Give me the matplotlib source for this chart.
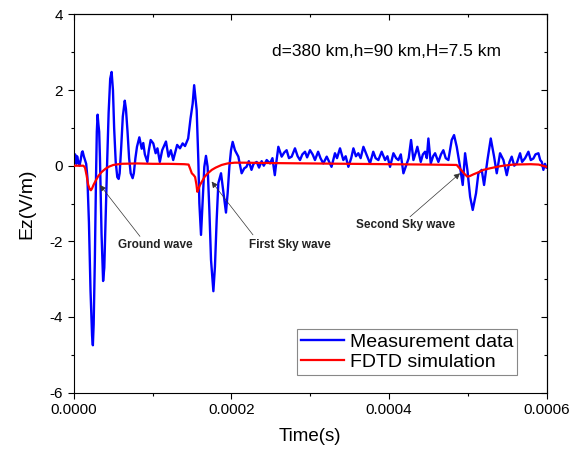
import matplotlib
matplotlib.use("Agg")
import matplotlib.pyplot as plt
from matplotlib.ticker import MultipleLocator
import numpy as np

plt.rcParams['font.family'] = ['Liberation Sans', 'DejaVu Sans']
plt.rcParams['axes.unicode_minus'] = False

# Measurement data (time in microseconds, Ez in V/m)
meas_t = [0, 1.5, 3, 4, 5.5, 7, 8.5, 10, 11, 12.5, 14, 15.5, 17, 19, 21, 23, 24, 25, 26.5, 28,
          29, 30, 31, 32, 33, 35, 37, 38.5, 40, 42, 44, 46, 47.8, 49.5, 51, 53, 55, 56.7, 58, 60,
          62, 64.5, 66, 68, 70, 72, 74.5, 76, 78, 80, 83, 86, 88, 90, 93.2, 95, 97.4, 100.7, 103.7, 106,
          109, 112, 116.8, 120, 123, 126, 131, 134.6, 138, 141, 145, 148, 150.7, 152.6, 155.8, 157.9,
          159.2, 161.3, 163.4, 165.5, 167.6, 169.7, 171.9, 174, 177, 179, 181.2, 183.3, 186.7, 188.8,
          190.9, 193, 195.1, 197.3, 199.4, 201.5, 204.4, 208.7, 212.9, 216.2, 219, 222, 225.4, 228, 232,
          235, 238.3, 241, 244.7, 249, 252, 255, 257, 259.5, 263.7, 267, 270, 273, 276.4, 280.6, 284,
          287, 290, 293.4, 296, 299.7, 303, 306, 310, 313, 316.6, 320.9, 324, 327, 331.4, 334, 337.8,
          342, 345, 348.4, 352, 354.8, 358, 361, 364, 367.5, 371.7, 375.9, 380, 383, 386.5, 390.7, 395,
          398, 401.3, 405.6, 409, 411.9, 415, 418.3, 422.5, 425, 428, 431, 434, 436, 440.3, 443, 445.8,
          448, 450, 453, 456, 458.5, 462.7, 466, 469, 472, 475.4, 479.6, 482.6, 486, 490.2, 493.6,
          496.6, 499.5, 503, 506.3, 510.5, 513.5, 517.7, 520.7, 525, 529.2, 533.4, 536.8, 541, 545.3,
          549.5, 553, 555.8, 559, 562.2, 566.4, 569, 572.8, 577, 580, 583.3, 586, 589.7, 592, 594, 596,
          598, 600]
meas_v = [0.15, 0.3, 0.05, 0.25, 0.1, 0.0, 0.15, 0.35, 0.38, 0.25, 0.15, 0.05, -0.3, -1.5, -3.3, -4.5, -4.75, -4.2, -2.5, -0.3,
          0.9, 1.35, 1.1, 0.9, 0.2, -1.8, -3.05, -2.7, -1.5, 0.0, 1.4, 2.3, 2.48, 2.0, 1.0, 0.1, -0.3, -0.35, -0.2, 0.5,
          1.3, 1.72, 1.5, 0.9, 0.2, -0.2, -0.33, -0.2, 0.2, 0.5, 0.75, 0.45, 0.6, 0.3, 0.1, 0.4, 0.68, 0.59, 0.33, 0.46,
          0.1, 0.41, 0.64, 0.24, 0.41, 0.15, 0.55, 0.46, 0.59, 0.52, 0.72, 1.25, 1.64, 2.13, 1.47, 0.15,
          -0.99, -1.83, -0.9, -0.03, 0.26, -0.03, -1.17, -2.49, -3.32, -2.67, -1.43, -0.46, -0.2, -0.55,
          -0.9, -1.24, -0.73, -0.03, 0.41, 0.63, 0.41, 0.24, -0.2, -0.07, -0.03, 0.12, -0.11, 0.05, 0.1,
          -0.05, 0.12, 0.0, 0.15, 0.06, 0.2, -0.25, 0.1, 0.5, 0.24, 0.35, 0.41, 0.2, 0.24, 0.46, 0.25,
          0.15, 0.3, 0.37, 0.22, 0.41, 0.3, 0.15, 0.37, 0.2, 0.06, 0.24, 0.1, -0.03, 0.33, 0.2, 0.46,
          0.15, 0.25, -0.03, 0.2, 0.46, 0.25, 0.33, 0.2, 0.5, 0.28, 0.06, 0.37, 0.2, 0.15, 0.37, 0.15,
          0.25, -0.03, 0.33, 0.2, 0.15, 0.3, -0.2, 0.05, 0.2, 0.68, 0.15, 0.35, 0.5, 0.1, 0.3, 0.37,
          0.2, 0.72, 0.06, 0.25, 0.33, 0.1, 0.3, 0.41, 0.2, 0.15, 0.68, 0.81, 0.5, -0.03, -0.51,
          0.33, -0.11, -0.82, -1.17, -0.73, -0.2, -0.11, -0.51, 0.15, 0.72, 0.24, -0.2, 0.33, 0.15,
          -0.25, 0.1, 0.24, 0.0, 0.06, 0.33, 0.1, 0.2, 0.37, 0.15, 0.19, 0.3, 0.33, 0.15, 0.1, -0.11,
          0.05, -0.05]

# FDTD simulation
sim_t = [0, 12, 14, 16, 18, 20, 21.5, 23, 25, 28, 31, 35, 40, 45, 50, 60, 80, 100, 120, 140, 145.5,
         147.5, 149.6, 152, 153.8, 155.5, 156.6, 158, 160, 163, 166, 170, 175, 180, 187.5, 195, 204,
         215, 250, 300, 350, 400, 450, 486, 488, 492.3, 496, 499.5, 503, 507, 514, 520, 528, 536.8,
         545, 558, 580, 590, 595, 600]
sim_v = [0, 0, -0.05, -0.25, -0.5, -0.62, -0.65, -0.6, -0.5, -0.38, -0.27, -0.17, -0.08, -0.02, 0.02, 0.05, 0.06, 0.05, 0.05, 0.04, 0.03,
         -0.08, -0.2, -0.25, -0.3, -0.5, -0.69, -0.62, -0.51, -0.4, -0.29, -0.2, -0.11, -0.05, 0.02, 0.06, 0.08,
         0.08, 0.07, 0.06, 0.05, 0.04, 0.03, 0.02, -0.03, -0.13, -0.22, -0.29, -0.27, -0.23, -0.17, -0.11, -0.07, -0.03,
         0.0, 0.03, 0.04, 0.03, 0.0, -0.03]

x_ticks = [0.0, 0.0002, 0.0004, 0.0006]
x_tick_labels = ["0.0000", "0.0002", "0.0004", "0.0006"]
y_ticks = [-6, -4, -2, 0, 2, 4]

fig = plt.figure(figsize=(5.69, 4.53), dpi=100)
ax = fig.add_axes([0.130, 0.1335, 0.8305, 0.8345])

mt = np.array(meas_t) * 1e-6
st = np.array(sim_t) * 1e-6
ax.plot(mt, meas_v, color='#0000FF', lw=1.7, label='Measurement data', zorder=2)
ax.plot(st, sim_v, color='#FF0000', lw=1.6, label='FDTD simulation', zorder=3)

ax.set_xlim(0, 0.0006)
ax.set_ylim(-6, 4)
ax.set_xticks(x_ticks)
ax.set_xticklabels(x_tick_labels)
ax.set_yticks(y_ticks)
ax.xaxis.set_minor_locator(MultipleLocator(0.0001))
ax.yaxis.set_minor_locator(MultipleLocator(1))
ax.tick_params(which='major', direction='out', length=4.3, width=0.8, labelsize=11,
               top=False, right=False)
ax.tick_params(which='minor', direction='out', length=2.4, width=0.8, top=False, right=False)
for sp in ax.spines.values():
    sp.set_linewidth(0.8)

ax2 = ax.secondary_xaxis('top')
ax2.set_xticks(x_ticks)
ax2.xaxis.set_minor_locator(MultipleLocator(0.0001))
ax2.tick_params(which='both', direction='in', labeltop=False)
ax2.tick_params(which='major', length=4.3, width=0.8)
ax2.tick_params(which='minor', length=2.4, width=0.8)
ax3 = ax.secondary_yaxis('right')
ax3.set_yticks(y_ticks)
ax3.yaxis.set_minor_locator(MultipleLocator(1))
ax3.tick_params(which='both', direction='in', labelright=False)
ax3.tick_params(which='major', length=4.3, width=0.8)
ax3.tick_params(which='minor', length=2.4, width=0.8)

ax.set_xlabel('Time(s)', fontsize=13.5, labelpad=8)
ax.set_ylabel('Ez(V/m)', fontsize=14, labelpad=10)

ax.text(251.5e-6, 3.03, 'd=380 km,h=90 km,H=7.5 km', fontsize=12.5, va='center', ha='left')

arrow_kw = dict(arrowstyle='-|>', color='#333333', lw=0.5, mutation_scale=9,
                shrinkA=0, shrinkB=0)
annots = [
    ('Ground wave', (103e-6, -2.09), (83.8e-6, -1.87), (33e-6, -0.51)),
    ('First Sky wave', (274e-6, -2.09), (227.3e-6, -1.83), (174.8e-6, -0.42)),
    ('Second Sky wave', (421e-6, -1.58), (426.7e-6, -1.35), (490.2e-6, -0.2)),
]
for label, tpos, tail, head in annots:
    ax.text(tpos[0], tpos[1], label, fontsize=8.5, fontweight='bold', ha='center', va='center',
            color='#222222')
    ax.annotate('', xy=head, xytext=tail, arrowprops=arrow_kw)

leg = ax.legend(loc='lower right', bbox_to_anchor=(0.9376, 0.046), borderaxespad=0,
                fontsize=14, fancybox=False, framealpha=1, edgecolor='#888888',
                handlelength=2.2, handletextpad=0.3, borderpad=0.2, labelspacing=0.15)
leg.get_frame().set_linewidth(0.8)

fig.savefig('out.png', dpi=100)
